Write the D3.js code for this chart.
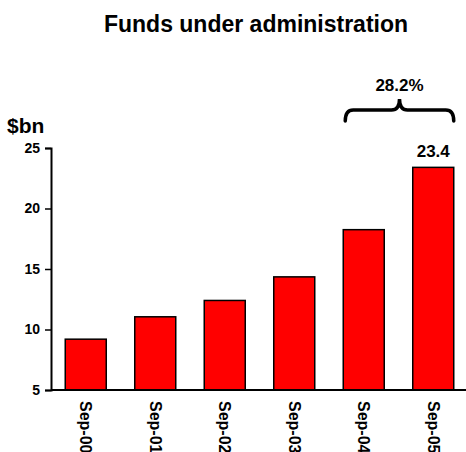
<!DOCTYPE html>
<html>
<head>
<meta charset="utf-8">
<script src="https://cdn.jsdelivr.net/npm/d3@7"></script>
<style>
  html, body { margin: 0; padding: 0; background: #fff; }
  svg { display: block; font-family: "Liberation Sans", Arial, sans-serif; }
</style>
</head>
<body>
<svg id="chart" width="466" height="452"></svg>
<script>
// Funds under administration, $bn, September year-ends
const categories = ["Sep-00", "Sep-01", "Sep-02", "Sep-03", "Sep-04", "Sep-05"];
const values = [9.2, 11.05, 12.4, 14.35, 18.25, 23.4];
const yTicks = [5, 10, 15, 20, 25];
const growthLabel = "28.2%";

const svg = d3.select("#chart");
const margin = { left: 51, right: -2, top: 148, bottom: 62 };
const W = 466, H = 452;
const FONT = "'Liberation Sans', Arial, sans-serif";

const x = d3.scaleBand()
  .domain(categories)
  .range([margin.left, W - margin.right])
  .paddingInner(0.41)
  .paddingOuter(0.205);

const y = d3.scaleLinear()
  .domain([5, 25])
  .range([H - margin.bottom, margin.top]);

// Title
svg.append("text")
  .attr("x", 256).attr("y", 32)
  .attr("text-anchor", "middle")
  .style("font-size", "23px").style("font-weight", "bold")
  .text("Funds under administration");

// Unit label
svg.append("text")
  .attr("x", 7).attr("y", 133)
  .style("font-size", "21px").style("font-weight", "bold")
  .text("$bn");

// Bars
svg.append("g").selectAll("rect")
  .data(values)
  .join("rect")
  .attr("x", (d, i) => x(categories[i]))
  .attr("width", x.bandwidth())
  .attr("y", d => y(d))
  .attr("height", d => y(5) - y(d))
  .attr("fill", "#ff0000")
  .attr("stroke", "#000")
  .attr("stroke-width", 1.5);

// Y axis
const yAxis = svg.append("g")
  .attr("transform", `translate(${margin.left},0)`)
  .call(d3.axisLeft(y).tickValues(yTicks).tickSize(6).tickPadding(5));
yAxis.select(".domain").attr("stroke-width", 2);
yAxis.selectAll(".tick line").attr("stroke-width", 1.5);
yAxis.selectAll(".tick text")
  .style("font-size", "14px").style("font-weight", "bold")
  .style("font-family", FONT)
  .attr("fill", "#000");

// X axis
const xAxis = svg.append("g")
  .attr("transform", `translate(0,${y(5)})`)
  .call(d3.axisBottom(x).tickSize(0).tickPadding(0));
xAxis.select(".domain").attr("stroke-width", 2).attr("d", `M${margin.left},0H${W}`);
xAxis.selectAll(".tick text")
  .attr("transform", "rotate(90)")
  .attr("x", 11).attr("y", 0).attr("dy", "0.35em")
  .attr("text-anchor", "start")
  .style("font-size", "16px").style("font-weight", "bold")
  .style("font-family", FONT)
  .attr("fill", "#000");

// Value label on the latest bar
const last = categories.length - 1;
svg.append("text")
  .attr("x", x(categories[last]) + x.bandwidth() / 2)
  .attr("y", y(values[last]) - 10)
  .attr("text-anchor", "middle")
  .style("font-size", "17px").style("font-weight", "bold")
  .text(values[last].toFixed(1));

// Growth brace spanning the last two bars
const bx0 = x(categories[last - 1]) + 2;
const bx1 = x(categories[last]) + x.bandwidth();
const bm = (bx0 + bx1) / 2;
const yb = 121, yt = 110, yp = 99;
const r = 8;
const brace = d3.path();
brace.moveTo(bx0, yb);
brace.quadraticCurveTo(bx0, yt, bx0 + r, yt);
brace.lineTo(bm - r, yt);
brace.quadraticCurveTo(bm, yt, bm, yp);
brace.quadraticCurveTo(bm, yt, bm + r, yt);
brace.lineTo(bx1 - r, yt);
brace.quadraticCurveTo(bx1, yt, bx1, yb);
svg.append("path")
  .attr("d", brace.toString())
  .attr("fill", "none")
  .attr("stroke", "#000")
  .attr("stroke-width", 3.5)
  .attr("stroke-linecap", "round");

svg.append("text")
  .attr("x", bm).attr("y", 91)
  .attr("text-anchor", "middle")
  .style("font-size", "17px").style("font-weight", "bold")
  .text(growthLabel);
</script>
</body>
</html>
